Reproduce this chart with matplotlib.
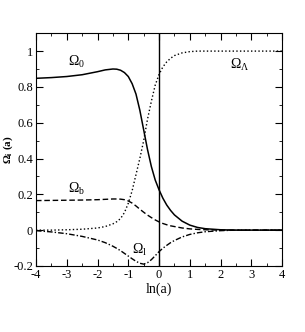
import numpy as np
import matplotlib
matplotlib.use('Agg')
from matplotlib import pyplot as plt
from matplotlib.ticker import MultipleLocator, FuncFormatter

plt.rcParams['font.family'] = 'Liberation Serif'
plt.rcParams['mathtext.fontset'] = 'custom'
plt.rcParams['mathtext.rm'] = 'Liberation Serif'
plt.rcParams['mathtext.it'] = 'Liberation Serif:italic'
plt.rcParams['mathtext.bf'] = 'Liberation Serif:bold'

# ln(a) sample points
lna = [-4, -3.5, -3, -2.5, -2, -1.75, -1.5, -1.375, -1.25, -1.125, -1, -0.875,
       -0.75, -0.625, -0.5, -0.375, -0.25, -0.125, 0, 0.125, 0.25, 0.375, 0.5,
       0.75, 1, 1.25, 1.5, 2, 2.5, 3, 4]

# Omega_0 (solid)
om0 = [0.848, 0.852, 0.858, 0.868, 0.885, 0.895, 0.900, 0.899, 0.893, 0.880,
       0.858, 0.818, 0.760, 0.670, 0.560, 0.450, 0.355, 0.280, 0.225, 0.178,
       0.140, 0.110, 0.085, 0.050, 0.028, 0.015, 0.008, 0.002, 0.0, 0.0, 0.0]
# Omega_Lambda (dotted)
omL = [0.0, 0.0, 0.002, 0.005, 0.012, 0.020, 0.035, 0.047, 0.065, 0.098,
       0.150, 0.220, 0.310, 0.400, 0.500, 0.620, 0.720, 0.810, 0.870, 0.912,
       0.940, 0.960, 0.975, 0.990, 0.997, 1.0, 1.0, 1.0, 1.0, 1.0, 1.0]
# Omega_b (dashed)
omb = [0.165, 0.166, 0.167, 0.168, 0.170, 0.172, 0.174, 0.174, 0.173, 0.170,
       0.163, 0.151, 0.135, 0.117, 0.100, 0.084, 0.070, 0.057, 0.046, 0.037,
       0.030, 0.024, 0.020, 0.012, 0.007, 0.004, 0.002, 0.0, 0.0, 0.0, 0.0]
# Omega_l (dash-dot)
oml = [-0.003, -0.010, -0.020, -0.035, -0.055, -0.070, -0.090, -0.102, -0.115,
       -0.130, -0.145, -0.160, -0.174, -0.185, -0.190, -0.182, -0.165, -0.143,
       -0.120, -0.101, -0.085, -0.070, -0.058, -0.038, -0.024, -0.015, -0.009,
       -0.003, 0.0, 0.0, 0.0]

fig = plt.figure(figsize=(3.05, 3.32), dpi=100)
ax = fig.add_axes([0.118, 0.199, 0.807, 0.701])

ax.plot(lna, om0, 'k-', lw=1.1)
ax.plot(lna, omL, 'k:', lw=1.0)
ax.plot(lna, omb, 'k--', lw=1.0, dashes=(4, 2))
ax.plot(lna, oml, 'k-.', lw=1.0, dashes=(4, 1.5, 1, 1.5))
ax.axvline(0, color='k', lw=1.0)

ax.text(-2.95, 0.92, r'$\Omega_0$', fontsize=10)
ax.text(2.3, 0.90, r'$\Omega_\Lambda$', fontsize=10)
ax.text(-2.95, 0.21, r'$\Omega_\mathrm{b}$', fontsize=10)
ax.text(-0.88, -0.13, r'$\Omega_\mathrm{l}$', fontsize=10)

ax.set_xlim(-4, 4)
ax.set_ylim(-0.2, 1.1)
ax.xaxis.set_major_locator(MultipleLocator(1))
ax.xaxis.set_minor_locator(MultipleLocator(0.5))
ax.yaxis.set_major_locator(MultipleLocator(0.2))
ax.yaxis.set_minor_locator(MultipleLocator(0.1))
ax.tick_params(which='both', direction='in', top=True, right=True, labelsize=9)
ax.tick_params(which='major', length=5, pad=2)
ax.tick_params(which='minor', length=2.5)
ax.yaxis.set_major_formatter(FuncFormatter(lambda v, p: '%g' % round(v, 2)))
ax.xaxis.set_major_formatter(FuncFormatter(lambda v, p: '%g' % v))

ax.set_xlabel('ln(a)', fontsize=10, labelpad=1)
ax.set_ylabel(r'$\mathbf{\Omega_i}$ (a)', fontsize=8, fontweight='bold')
ax.yaxis.set_label_coords(-0.085, 0.5)

fig.savefig('out.png', dpi=100)
